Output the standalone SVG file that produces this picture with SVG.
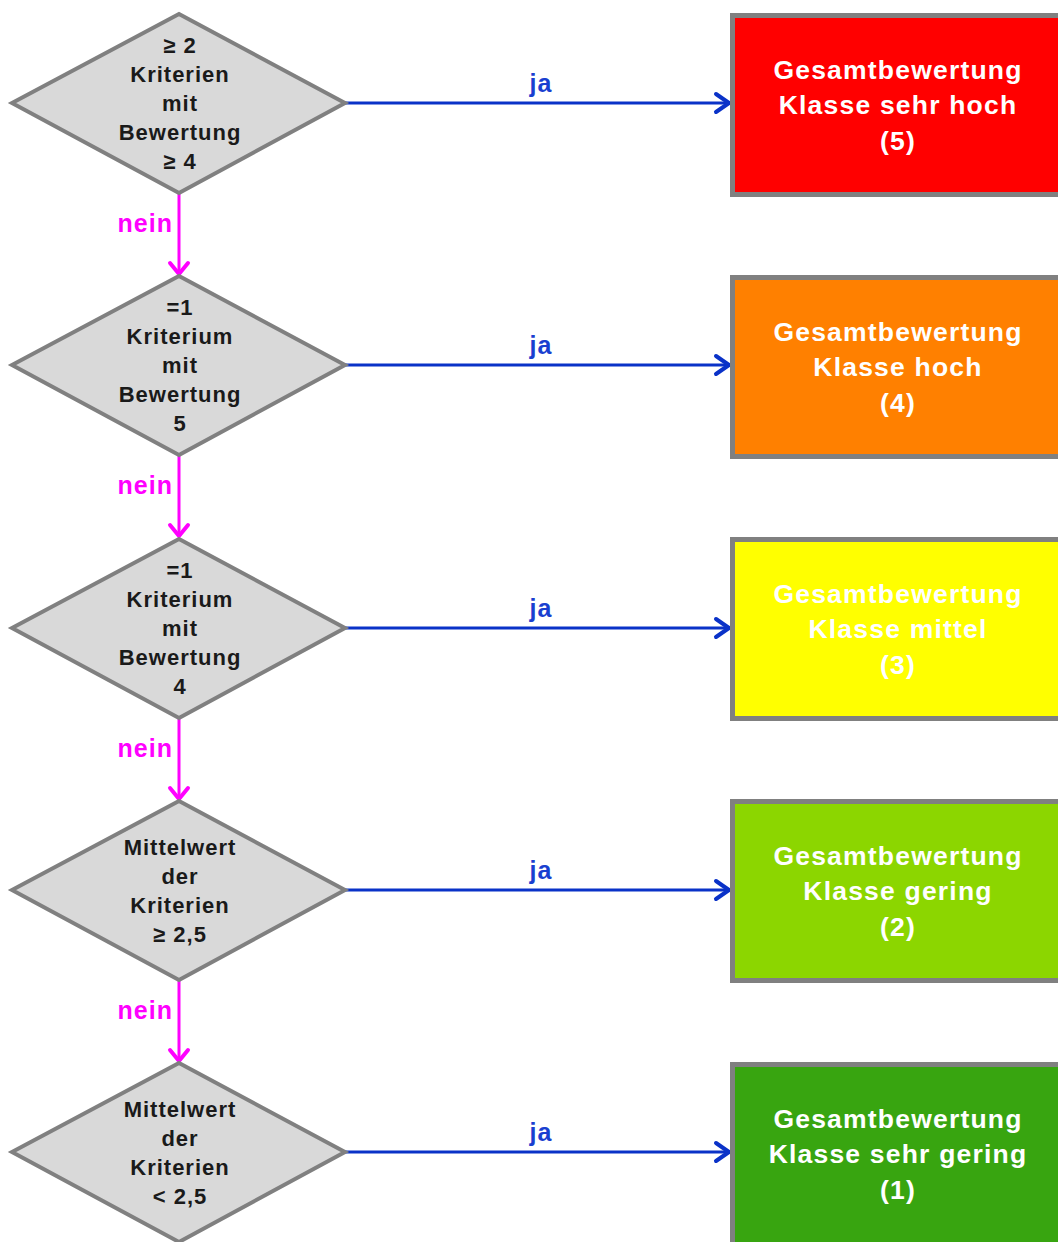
<svg xmlns="http://www.w3.org/2000/svg" width="1058" height="1242" viewBox="0 0 1058 1242">
<style>
.dia{fill:#d9d9d9;stroke:#808080;stroke-width:4;stroke-linejoin:miter}
.dt{font-family:"Liberation Sans",Arial,sans-serif;font-weight:bold;font-size:22px;letter-spacing:1px;fill:#1a1a1a;text-anchor:middle}
.box{stroke:#808080;stroke-width:5}
.bt{font-family:"Liberation Sans",Arial,sans-serif;font-weight:bold;font-size:26.5px;letter-spacing:1.2px;fill:#ffffff;text-anchor:middle}
.ja{stroke:#0a32c8;stroke-width:3;fill:none}
.jah{stroke:#0a32c8;stroke-width:4;fill:none;stroke-linecap:round;stroke-linejoin:round}
.nein{stroke:#ff00ff;stroke-width:3;fill:none}
.neinh{stroke:#ff00ff;stroke-width:4;fill:none;stroke-linecap:round;stroke-linejoin:round}
.jat{font-family:"Liberation Sans",Arial,sans-serif;font-weight:bold;font-size:25px;letter-spacing:1px;fill:#1a3fd0;text-anchor:middle}
.nt{font-family:"Liberation Sans",Arial,sans-serif;font-weight:bold;font-size:25px;letter-spacing:1px;fill:#ff00ff;text-anchor:end}
</style>
<rect width="1058" height="1242" fill="#ffffff"/>
<g id="connectors">
  <line class="ja" x1="345" y1="103" x2="728" y2="103"/>
  <polyline class="jah" points="716,94 729,103 716,112"/>
  <text class="jat" x="541" y="92">ja</text>
  <line class="ja" x1="345" y1="365" x2="728" y2="365"/>
  <polyline class="jah" points="716,356 729,365 716,374"/>
  <text class="jat" x="541" y="354">ja</text>
  <line class="ja" x1="345" y1="628" x2="728" y2="628"/>
  <polyline class="jah" points="716,619 729,628 716,637"/>
  <text class="jat" x="541" y="617">ja</text>
  <line class="ja" x1="345" y1="890" x2="728" y2="890"/>
  <polyline class="jah" points="716,881 729,890 716,899"/>
  <text class="jat" x="541" y="879">ja</text>
  <line class="ja" x1="345" y1="1152" x2="728" y2="1152"/>
  <polyline class="jah" points="716,1143 729,1152 716,1161"/>
  <text class="jat" x="541" y="1141">ja</text>

  <line class="nein" x1="179" y1="193" x2="179" y2="273"/>
  <polyline class="neinh" points="170,263 179,274 188,263"/>
  <text class="nt" x="173" y="232">nein</text>
  <line class="nein" x1="179" y1="455" x2="179" y2="535"/>
  <polyline class="neinh" points="170,525 179,536 188,525"/>
  <text class="nt" x="173" y="494">nein</text>
  <line class="nein" x1="179" y1="718" x2="179" y2="798"/>
  <polyline class="neinh" points="170,788 179,799 188,788"/>
  <text class="nt" x="173" y="757">nein</text>
  <line class="nein" x1="179" y1="980" x2="179" y2="1060"/>
  <polyline class="neinh" points="170,1050 179,1061 188,1050"/>
  <text class="nt" x="173" y="1019">nein</text>
</g>
<g id="d1">
  <polygon class="dia" points="179,14 345,103 179,193 12,103"/>
  <text class="dt" x="180" y="53">≥ 2</text>
  <text class="dt" x="180" y="82">Kriterien</text>
  <text class="dt" x="180" y="111">mit</text>
  <text class="dt" x="180" y="140">Bewertung</text>
  <text class="dt" x="180" y="169">≥ 4</text>
</g>
<g id="d2">
  <polygon class="dia" points="179,276 345,365 179,455 12,365"/>
  <text class="dt" x="180" y="315">=1</text>
  <text class="dt" x="180" y="344">Kriterium</text>
  <text class="dt" x="180" y="373">mit</text>
  <text class="dt" x="180" y="402">Bewertung</text>
  <text class="dt" x="180" y="431">5</text>
</g>
<g id="d3">
  <polygon class="dia" points="179,539 345,628 179,718 12,628"/>
  <text class="dt" x="180" y="578">=1</text>
  <text class="dt" x="180" y="607">Kriterium</text>
  <text class="dt" x="180" y="636">mit</text>
  <text class="dt" x="180" y="665">Bewertung</text>
  <text class="dt" x="180" y="694">4</text>
</g>
<g id="d4">
  <polygon class="dia" points="179,801 345,890 179,980 12,890"/>
  <text class="dt" x="180" y="855">Mittelwert</text>
  <text class="dt" x="180" y="884">der</text>
  <text class="dt" x="180" y="913">Kriterien</text>
  <text class="dt" x="180" y="942">≥ 2,5</text>
</g>
<g id="d5">
  <polygon class="dia" points="179,1063 345,1152 179,1242 12,1152"/>
  <text class="dt" x="180" y="1117">Mittelwert</text>
  <text class="dt" x="180" y="1146">der</text>
  <text class="dt" x="180" y="1175">Kriterien</text>
  <text class="dt" x="180" y="1204">&lt; 2,5</text>
</g>
<g id="b5">
  <rect class="box" x="732.5" y="15.5" width="340" height="179" fill="#ff0000"/>
  <text class="bt" x="898" y="79">Gesamtbewertung</text>
  <text class="bt" x="898" y="114">Klasse sehr hoch</text>
  <text class="bt" x="898" y="150">(5)</text>
</g>
<g id="b4">
  <rect class="box" x="732.5" y="277.5" width="340" height="179" fill="#ff8000"/>
  <text class="bt" x="898" y="341">Gesamtbewertung</text>
  <text class="bt" x="898" y="376">Klasse hoch</text>
  <text class="bt" x="898" y="412">(4)</text>
</g>
<g id="b3">
  <rect class="box" x="732.5" y="539.5" width="340" height="179" fill="#ffff00"/>
  <text class="bt" x="898" y="603">Gesamtbewertung</text>
  <text class="bt" x="898" y="638">Klasse mittel</text>
  <text class="bt" x="898" y="674">(3)</text>
</g>
<g id="b2">
  <rect class="box" x="732.5" y="801.5" width="340" height="179" fill="#8cd600"/>
  <text class="bt" x="898" y="865">Gesamtbewertung</text>
  <text class="bt" x="898" y="900">Klasse gering</text>
  <text class="bt" x="898" y="936">(2)</text>
</g>
<g id="b1">
  <rect class="box" x="732.5" y="1064.5" width="340" height="190" fill="#38a510"/>
  <text class="bt" x="898" y="1128">Gesamtbewertung</text>
  <text class="bt" x="898" y="1163">Klasse sehr gering</text>
  <text class="bt" x="898" y="1199">(1)</text>
</g>
</svg>
